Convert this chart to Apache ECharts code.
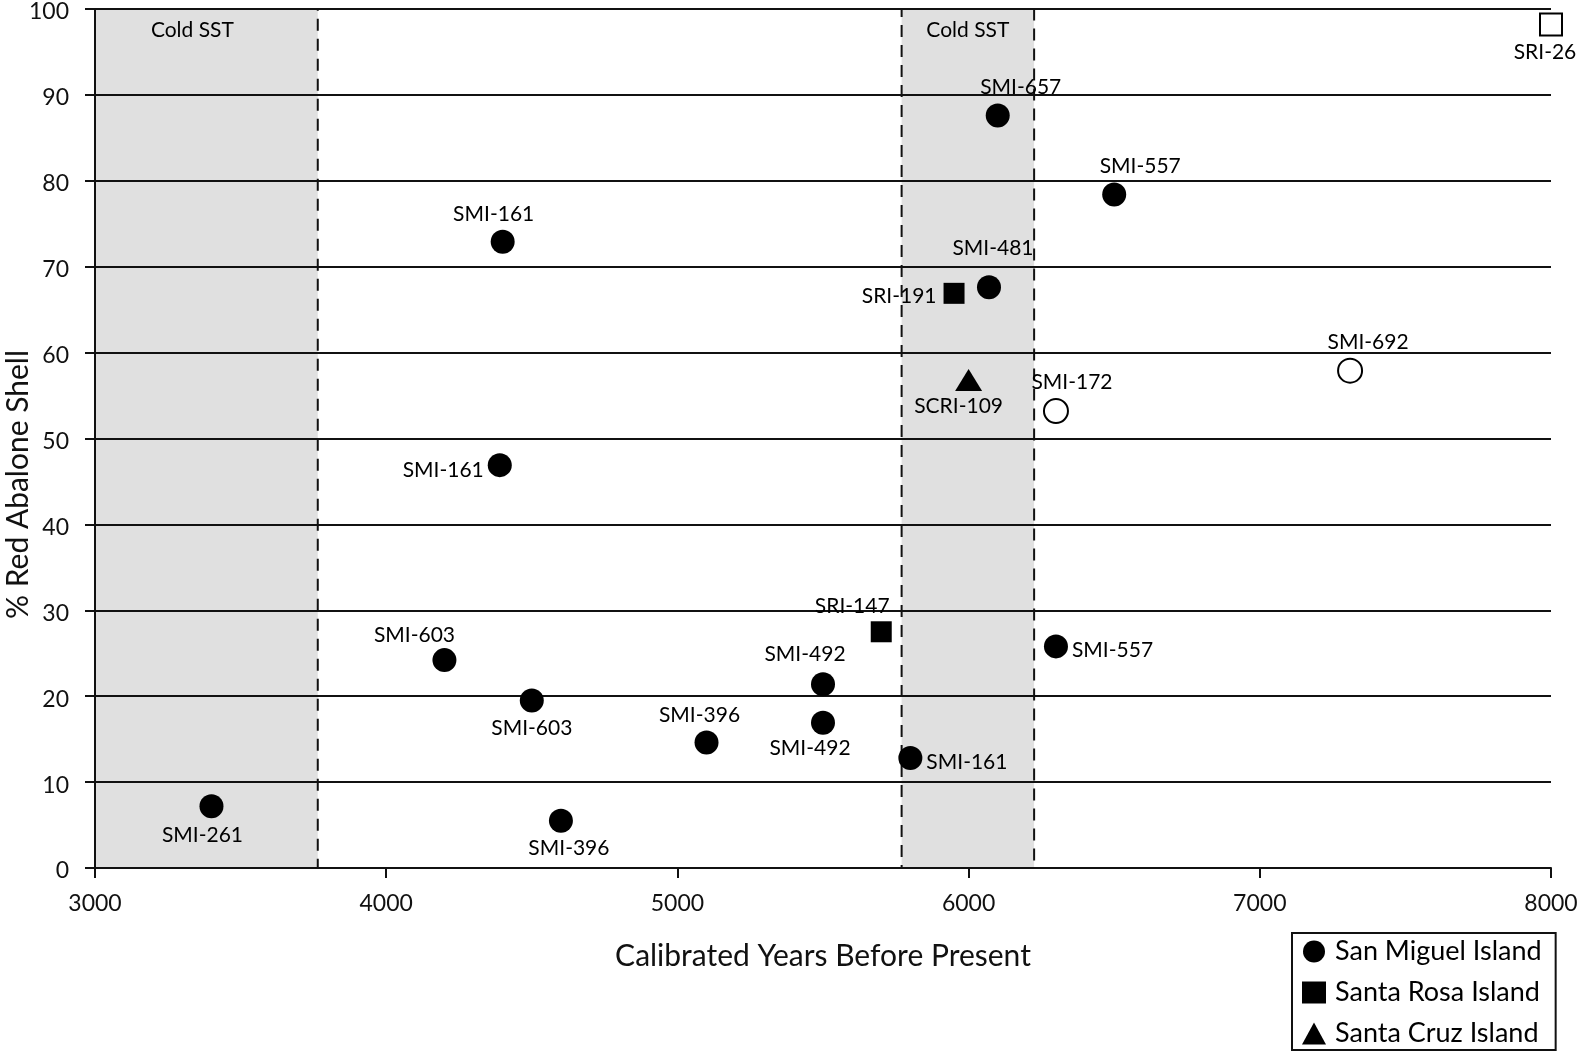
<!DOCTYPE html>
<html>
<head>
<meta charset="utf-8">
<script src="https://cdn.jsdelivr.net/npm/echarts@6/dist/echarts.min.js"></script>
<style>
html,body{margin:0;padding:0;background:#fff;}
#chart{width:1583px;height:1052px;}
</style>
</head>
<body>
<div id="chart"></div>
<script>
// ---- data ----
const xTicks = [3000, 4000, 5000, 6000, 7000, 8000];
const yTicks = [0, 10, 20, 30, 40, 50, 60, 70, 80, 90, 100];
const coldPeriods = [[3000, 3765], [5770, 6225]];
const coldLabel = 'Cold SST';

// San Miguel Island (filled circles)
const smiYears   = [3400, 4400, 4390, 4200, 4500, 4600, 5100, 5500, 5500, 5800, 6070, 6100, 6300, 6500];
const smiPercent = [7.2, 72.9, 46.9, 24.2, 19.5, 5.5, 14.6, 21.4, 16.9, 12.8, 67.6, 87.6, 25.8, 78.4];
const smiSites   = ['SMI-261','SMI-161','SMI-161','SMI-603','SMI-603','SMI-396','SMI-396','SMI-492','SMI-492','SMI-161','SMI-481','SMI-657','SMI-557','SMI-557'];

// Santa Rosa Island (filled squares)
const sriYears   = [5700, 5950];
const sriPercent = [27.5, 66.9];
const sriSites   = ['SRI-147', 'SRI-191'];

// Santa Cruz Island (filled triangle)
const scriYears   = [6000];
const scriPercent = [56.8];
const scriSites   = ['SCRI-109'];

// San Miguel Island (open circles)
const smiOpenYears   = [6300, 7310];
const smiOpenPercent = [53.2, 57.9];
const smiOpenSites   = ['SMI-172', 'SMI-692'];

// Santa Rosa Island (open square)
const sriOpenYears   = [8000];
const sriOpenPercent = [98.2];
const sriOpenSites   = ['SRI-26'];

// ---- label placement (style, kept apart from data) ----
const smiLabelPlace = [
  ['bottom', -9, 2], ['top', -9, 0], ['left', 0, 5], ['top', -30, 3], ['bottom', 0, 0],
  ['bottom', 8, 0], ['top', -7, 0], ['top', -18, -2], ['bottom', -13, -2], ['right', 0, 4],
  ['top', 4, -12], ['top', 23, -1], ['right', 0, 4], ['top', 26, -1]
];
const sriLabelPlace = [['top', -29, 0], ['left', -3, 3]];
const scriLabelPlace = [['bottom', -10, 0]];
const smiOpenLabelPlace = [['top', 16, 0], ['top', 18, 0]];
const sriOpenLabelPlace = [['bottom', -6, 0]];

const FONT = 'Lato';
const INK = '#111';

function build(years, vals, sites, place) {
  return years.map((x, i) => {
    const p = place[i];
    return {
      value: [x, vals[i]],
      name: sites[i],
      label: {
        show: true,
        formatter: sites[i],
        position: p[0],
        offset: [p[1], p[2]],
        distance: (p[0] === 'left' || p[0] === 'right') ? 4 : 5
      }
    };
  });
}

const labelBase = { show: true, color: '#000', fontFamily: FONT, fontSize: 21 };

const chart = echarts.init(document.getElementById('chart'), null, { renderer: 'canvas' });

chart.setOption({
  animation: false,
  backgroundColor: '#fff',
  grid: { left: 95, right: 32, top: 9, bottom: 184, containLabel: false, outerBoundsMode: 'none' },
  xAxis: {
    type: 'value', min: xTicks[0], max: xTicks[xTicks.length - 1], interval: 1000,
    zlevel: 1,
    name: 'Calibrated Years Before Present',
    nameLocation: 'middle', nameGap: 73,
    nameTextStyle: { fontFamily: FONT, fontSize: 30, color: INK },
    axisLine: { show: true, onZero: false, lineStyle: { color: INK, width: 2 } },
    axisTick: { show: true, inside: false, length: 10, lineStyle: { color: INK, width: 2 } },
    axisLabel: { margin: 24, fontFamily: FONT, fontSize: 23, color: INK, formatter: v => String(v) },
    splitLine: { show: false }
  },
  yAxis: {
    type: 'value', min: yTicks[0], max: yTicks[yTicks.length - 1], interval: 10,
    zlevel: 1,
    name: '% Red Abalone Shell',
    nameLocation: 'middle', nameGap: 62, nameMoveOverlap: false,
    nameTextStyle: { fontFamily: FONT, fontSize: 30, color: INK, padding: [0, 92, 0, 0] },
    axisLine: { show: true, lineStyle: { color: INK, width: 2 } },
    axisTick: { show: true, inside: false, length: 10, lineStyle: { color: INK, width: 2 } },
    axisLabel: {
      margin: 26, color: INK,
      formatter: v => '{t|' + v + '}',
      rich: { t: { fontFamily: FONT, fontSize: 23, color: INK, padding: [6, 0, 0, 0] } }
    },
    splitLine: { show: true, lineStyle: { color: INK, width: 2 } }
  },
  legend: {
    orient: 'vertical',
    left: 1292, top: 933,
    borderColor: INK, borderWidth: 2, borderRadius: 0,
    padding: [5, 14, 3, 10],
    itemWidth: 24, itemHeight: 22, itemGap: 14,
    textStyle: { fontFamily: FONT, fontSize: 27, color: '#000', padding: [0, 0, 0, 4] },
    data: [
      { name: 'San Miguel Island', icon: 'circle' },
      { name: 'Santa Rosa Island', icon: 'rect' },
      { name: 'Santa Cruz Island', icon: 'triangle' }
    ]
  },
  series: [
    {
      name: 'cold', type: 'scatter', data: [], zlevel: 0, z: 0, silent: true,
      markArea: {
        silent: true,
        label: { show: true, position: 'insideTop', distance: 12, color: '#000', fontFamily: FONT, fontSize: 21 },
        data: coldPeriods.map((p, i) => [
          {
            xAxis: p[0], name: coldLabel,
            label: { offset: [i === 0 ? -14 : 0, 0] },
            itemStyle: { color: '#e0e0e0', borderColor: INK, borderWidth: 2, borderType: [12, 8] }
          },
          { xAxis: p[1] }
        ])
      }
    },
    {
      name: 'San Miguel Island', type: 'scatter', symbol: 'circle', symbolSize: 24, clip: false, zlevel: 2,
      itemStyle: { color: '#000', opacity: 1 }, label: labelBase,
      data: build(smiYears, smiPercent, smiSites, smiLabelPlace)
    },
    {
      name: 'Santa Rosa Island', type: 'scatter', symbol: 'rect', symbolSize: 21, clip: false, zlevel: 2,
      itemStyle: { color: '#000', opacity: 1 }, label: labelBase,
      data: build(sriYears, sriPercent, sriSites, sriLabelPlace)
    },
    {
      name: 'Santa Cruz Island', type: 'scatter', symbol: 'triangle', symbolSize: [27, 22], clip: false, zlevel: 2,
      itemStyle: { color: '#000', opacity: 1 }, label: labelBase,
      data: build(scriYears, scriPercent, scriSites, scriLabelPlace)
    },
    {
      name: 'San Miguel Island (open)', type: 'scatter', symbol: 'circle', symbolSize: 24, clip: false, zlevel: 2,
      itemStyle: { color: '#fff', borderColor: '#000', borderWidth: 2, opacity: 1 }, label: labelBase,
      data: build(smiOpenYears, smiOpenPercent, smiOpenSites, smiOpenLabelPlace)
    },
    {
      name: 'Santa Rosa Island (open)', type: 'scatter', symbol: 'rect', symbolSize: 22, clip: false, zlevel: 2,
      itemStyle: { color: '#fff', borderColor: '#000', borderWidth: 2, opacity: 1 }, label: labelBase,
      data: build(sriOpenYears, sriOpenPercent, sriOpenSites, sriOpenLabelPlace)
    }
  ]
});
</script>
</body>
</html>
